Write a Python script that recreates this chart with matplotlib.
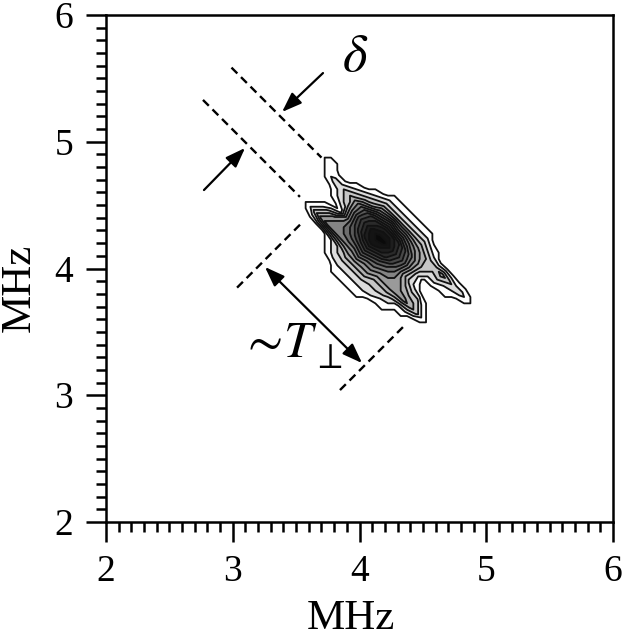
import matplotlib
matplotlib.use("Agg")
import matplotlib.pyplot as plt
import numpy as np
from matplotlib.ticker import MultipleLocator

plt.rcParams["font.family"] = "serif"
plt.rcParams["font.serif"] = ["Liberation Serif", "DejaVu Serif"]
plt.rcParams["mathtext.fontset"] = "stix"

# spectrum on a grid turned by 45 degrees:
# s = x + y runs across the two ridges, d = x - y runs along them
S_VALUES = [8.9, 8.8, 8.7, 8.6, 8.5, 8.4, 8.3, 8.2, 8.1, 8.0, 7.9, 7.8, 7.7]
D_VALUES = [-1.3, -1.2, -1.1, -1.0, -0.9, -0.8, -0.7, -0.6, -0.5, -0.4, -0.3, -0.2, -0.1,
            0.0, 0.1, 0.2, 0.3, 0.4, 0.5, 0.6, 0.7, 0.8, 0.9, 1.0, 1.1, 1.2, 1.3]
# one hex digit per grid point (0 = baseline, e = strongest)
INTENSITY_ROWS = [
    "000000000000000000000000000",
    "000000000011111110000000000",
    "000000001233333332100000000",
    "001100123467877654334322100",
    "0001223468abccb975322110000",
    "0000012369bdeeca85200000000",
    "0000000158acdcb974210000000",
    "000001356789a98765433100000",
    "000013566666766555554310000",
    "000000001234444333211000000",
    "000000000122222221100000000",
    "000000000001111100000000000",
    "000000000000000000000000000",
]

# dashed guide lines: delta pair lies on x + y = const, T pair on y - x = const
DELTA_SUMS = [8.575, 8.095]
DELTA_X_SPANS = [(2.99, 3.70), (2.765, 3.53)]
T_DIFFS = [0.815, -0.805]
T_X_SPANS = [(3.034, 3.546), (3.846, 4.359)]

# arrows (tail -> head)
DELTA_ARROW_TAILS = [(3.712, 5.542), (2.773, 4.619)]
DELTA_ARROW_HEADS = [(3.389, 5.235), (3.097, 4.951)]
T_ARROW_ENDS = [(3.254, 4.012), (4.020, 3.254)]

DELTA_LABEL_POS = (3.965, 5.661)
T_LABEL_POS = (3.06, 3.302)
T_SUB_POS = (3.625, 3.215)

FILL_GRAYS = ["#ffffff", "#dcdcdc", "#c6c6c6", "#b0b0b0", "#9a9a9a", "#848484", "#6e6e6e",
              "#5a5a5a", "#484848", "#383838", "#2a2a2a", "#1e1e1e", "#141414", "#0a0a0a"]

intensity = np.array([[int(c, 16) for c in row] for row in INTENSITY_ROWS], dtype=float)
d_grid, s_grid = np.meshgrid(D_VALUES, S_VALUES)
x_grid = (s_grid + d_grid) / 2
y_grid = (s_grid - d_grid) / 2
levels = np.arange(0.5, 15.0, 1.0)

fig = plt.figure(figsize=(6.23, 6.37), dpi=100)
ax = fig.add_axes([106 / 623, 1 - 522 / 637, 507 / 623, 507 / 637])

ax.contourf(x_grid, y_grid, intensity, levels=levels, colors=FILL_GRAYS)
ax.contour(x_grid, y_grid, intensity, levels=levels, colors="#111111", linewidths=1.3)

dash = (0, (3.5, 2.2))
for total, (x0, x1) in zip(DELTA_SUMS, DELTA_X_SPANS):
    xs = np.array([x0, x1])
    ax.plot(xs, total - xs, color="black", lw=1.7, linestyle=dash)
for diff, (x0, x1) in zip(T_DIFFS, T_X_SPANS):
    xs = np.array([x0, x1])
    ax.plot(xs, xs + diff, color="black", lw=1.7, linestyle=dash)

head = "-|>,head_length=0.6,head_width=0.22"
for tail, tip in zip(DELTA_ARROW_TAILS, DELTA_ARROW_HEADS):
    ax.annotate("", xy=tip, xytext=tail,
                arrowprops=dict(arrowstyle=head, color="black", lw=1.6,
                                mutation_scale=20, shrinkA=0, shrinkB=0))
ax.annotate("", xy=T_ARROW_ENDS[1], xytext=T_ARROW_ENDS[0],
            arrowprops=dict(arrowstyle="<|-|>,head_length=0.6,head_width=0.22", color="black",
                            lw=1.6, mutation_scale=20, shrinkA=0, shrinkB=0))

ax.text(*DELTA_LABEL_POS, r"$\delta$", fontsize=38, ha="center", va="center")
ax.text(*T_LABEL_POS, r"$\sim\!T$", fontsize=37, ha="left", va="baseline")
ax.text(*T_SUB_POS, r"$\perp$", fontsize=26, ha="left", va="baseline")

ax.set_xlim(2, 6)
ax.set_ylim(2, 6)
for axis in (ax.xaxis, ax.yaxis):
    axis.set_major_locator(MultipleLocator(1))
    axis.set_minor_locator(MultipleLocator(0.1))
ax.tick_params(which="both", direction="out", top=False, right=False, width=1.8, color="black")
ax.tick_params(which="major", length=14.5, labelsize=27, pad=9)
ax.tick_params(which="minor", length=7.5)
for spine in ax.spines.values():
    spine.set_linewidth(1.8)

ax.set_xlabel("MHz", fontsize=31)
ax.set_ylabel("MHz", fontsize=31)
ax.xaxis.set_label_coords(0.483, -0.153)
ax.yaxis.set_label_coords(-0.209, 0.4615)
ax.yaxis.label.set_va("top")

fig.savefig("out.png", dpi=100)
